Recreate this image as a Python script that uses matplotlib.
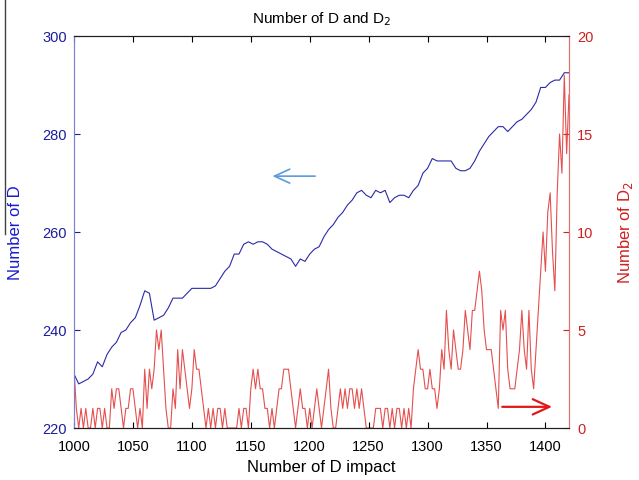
import matplotlib
matplotlib.use('Agg')
import matplotlib.pyplot as plt
from matplotlib.lines import Line2D
import numpy as np

plt.rcParams['font.family'] = ['Liberation Sans', 'DejaVu Sans']

# number of D, read every 4 impacts (1000 .. 1420)
d_x = list(range(1000, 1421, 4))
d_vals = [231, 229, 229.5, 230, 231, 233.5, 232.5, 235, 236.5, 237.5,
          239.5, 240, 241.5, 242.5, 245, 248, 247.5, 242, 242.5, 243,
          244.5, 246.5, 246.5, 246.5, 247.5, 248.5, 248.5, 248.5, 248.5, 248.5,
          249, 250.5, 252, 253, 255.5, 255.5, 257.5, 258, 257.5, 258,
          258, 257.5, 256.5, 256, 255.5, 255, 254.5, 253, 254.5, 254,
          255.5, 256.5, 257, 259, 260.5, 261.5, 263, 264, 265.5, 266.5,
          268, 268.5, 267.5, 267, 268.5, 268, 268.5, 266, 267, 267.5,
          267.5, 267, 268.5, 269.5, 272, 273, 275, 274.5, 274.5, 274.5,
          274.5, 273, 272.5, 272.5, 273, 274.5, 276.5, 278, 279.5, 280.5,
          281.5, 281.5, 280.5, 281.5, 282.5, 283, 284, 285, 286.5, 289.5,
          289.5, 290.5, 291, 291, 292.5, 292.5]

# number of D2, read every 2 impacts (1000 .. 1420)
d2_x = list(range(1000, 1421, 2))
d2_vals = [3, 1, 0, 1, 0, 1, 0, 0, 1, 0, 1, 1, 0, 1, 0, 0,          # 1000-1030
           2, 1, 2, 2, 1, 0, 1, 1, 2, 2, 1, 0, 1, 0,                # 1032-1058
           3, 1, 3, 2, 3, 5, 4, 5, 3, 1, 0, 0, 2, 1, 4, 2,          # 1060-1090
           4, 3, 2, 1, 2, 4, 3, 3, 2, 1, 0, 1, 0, 1, 0, 1,          # 1092-1122
           1, 0, 1, 0, 0, 0, 0, 0, 1, 0, 1, 1, 0, 2, 3, 2,          # 1124-1154
           3, 2, 2, 1, 1, 0, 1, 0, 1, 2, 2, 3, 3, 3, 2, 1,          # 1156-1186
           0, 1, 2, 1, 1, 0, 1, 0, 1, 2, 1, 0, 1, 2, 3, 1,          # 1188-1218
           0, 0, 1, 2, 1, 2, 1, 2, 2, 1, 2, 1, 2, 1, 0, 0,          # 1220-1250
           0, 0, 1, 1, 1, 0, 1, 1, 0, 1, 0, 1, 1, 0, 1, 0,          # 1252-1282
           1, 0, 2, 3, 4, 3, 3, 2, 2, 3, 2, 2, 1, 2, 4, 3,          # 1284-1314
           6, 4, 3, 5, 4, 3, 3, 4, 6, 5, 4, 6, 6, 7, 8, 7,          # 1316-1346
           5, 4, 4, 4, 3, 2, 1, 6, 5, 6, 3, 2, 2, 2, 3, 4,          # 1348-1378
           6, 4, 3, 6, 3, 2, 4, 6, 8, 10, 8, 11, 12, 9, 7, 12,      # 1380-1410
           15, 13, 18, 14, 17]                                      # 1412-1420
assert len(d2_vals) == len(d2_x)
assert len(d_vals) == len(d_x)

blue_txt = '#1c1c9c'
red_txt = '#d02020'

fig = plt.figure(figsize=(6.39, 4.81), dpi=100)
ax = fig.add_axes([74 / 639, 52 / 481, 495 / 639, 392 / 481])
ax2 = ax.twinx()

ax2.plot(d2_x, d2_vals, color='#e03030', lw=0.8, alpha=0.85)
ax.plot(d_x, d_vals, color='#2a2aa8', lw=0.8)
ax.set_zorder(ax2.get_zorder() + 1)
ax.patch.set_visible(False)

ax.set_xlim(1000, 1420)
ax.set_ylim(220, 300)
ax2.set_ylim(0, 20)
ax.set_xticks(np.arange(1000, 1401, 50))
ax.set_yticks(np.arange(220, 301, 20))
ax2.set_yticks(np.arange(0, 21, 5))

ax.tick_params(axis='x', direction='in', top=True, length=4, labelsize=10.5, pad=8)
ax.tick_params(axis='y', direction='in', length=4, labelsize=10.5, colors=blue_txt, pad=5)
ax2.tick_params(axis='y', direction='in', length=4, labelsize=10.5, colors=red_txt, pad=6)
ax2.tick_params(axis='x', top=False, bottom=False)

for a in (ax, ax2):
    a.spines['left'].set_color('#8080d0')
    a.spines['right'].set_color('#e07070')
    a.spines['top'].set_color('#202020')
    a.spines['bottom'].set_color('#202020')
    for s in a.spines.values():
        s.set_linewidth(0.8)

ax.set_xlabel('Number of D impact', fontsize=12, labelpad=4)
ax.set_ylabel('Number of D', fontsize=12, color='#1a1ad0', labelpad=14)
ax2.set_ylabel('Number of D$_2$', fontsize=12, color=red_txt, labelpad=16)
ax.set_title('Number of D and D$_2$', fontsize=11, pad=10)

# arrows pointing to each series' axis
ax.annotate('', xy=(1166, 271.4), xytext=(1207, 271.4),
            arrowprops=dict(arrowstyle='->,head_length=1.1,head_width=0.5',
                            color='#5a9be0', lw=1.2))
ax2.annotate('', xy=(1408, 1.08), xytext=(1361, 1.08),
             arrowprops=dict(arrowstyle='->,head_length=1.2,head_width=0.55',
                             color='#e01818', lw=1.6))

fig.add_artist(Line2D([5 / 639, 5 / 639], [1.0, 1 - 235 / 481],
                      color='#404040', lw=1.0))

fig.savefig('out.png', dpi=100)
